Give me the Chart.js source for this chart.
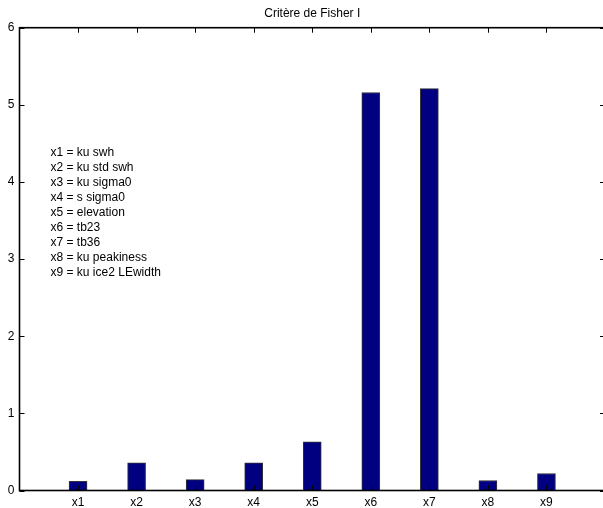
<!DOCTYPE html>
<html lang="fr">
<head>
<meta charset="UTF-8" />
<title>Critère de Fisher I</title>
<script src="https://cdn.jsdelivr.net/npm/chart.js"></script>
<style>
  html, body { margin: 0; padding: 0; overflow: hidden; background: #fff; }
  #wrap { width: 610px; height: 508px; }
</style>
</head>
<body>
<div id="wrap"><canvas id="fisher" width="610" height="508"></canvas></div>
<script>
// Fisher criterion for each input variable
const variables = ['x1', 'x2', 'x3', 'x4', 'x5', 'x6', 'x7', 'x8', 'x9'];
const fisherValues = [0.12, 0.36, 0.14, 0.36, 0.63, 5.16, 5.21, 0.13, 0.22];
const yTicks = [0, 1, 2, 3, 4, 5, 6];
const keyLines = [
  'x1 = ku swh',
  'x2 = ku std swh',
  'x3 = ku sigma0',
  'x4 = s sigma0',
  'x5 = elevation',
  'x6 = tb23',
  'x7 = tb36',
  'x8 = ku peakiness',
  'x9 = ku ice2 LEwidth'
];

const FONT = 'Liberation Sans, Arial, Helvetica, sans-serif';

// box around the axes with inward ticks on all four sides, plus the variable key
const matlabBox = {
  id: 'matlabBox',
  afterDatasetsDraw(chart) {
    const { ctx, chartArea: a, scales: { x, y } } = chart;
    const tl = 5;
    ctx.save();
    ctx.strokeStyle = '#000';
    ctx.lineWidth = 1;
    ctx.beginPath();
    variables.forEach((v, i) => {
      const px = Math.round(x.getPixelForValue(i + 1)) + 0.5;
      ctx.moveTo(px, a.bottom); ctx.lineTo(px, a.bottom - tl);
      ctx.moveTo(px, a.top); ctx.lineTo(px, a.top + tl);
    });
    yTicks.forEach(t => {
      const py = Math.round(y.getPixelForValue(t)) + 0.5;
      ctx.moveTo(a.left, py); ctx.lineTo(a.left + tl, py);
      ctx.moveTo(a.right, py); ctx.lineTo(a.right - tl, py);
    });
    ctx.stroke();

    ctx.lineWidth = 1.6;
    ctx.strokeRect(a.left, a.top, a.right - a.left, a.bottom - a.top);

    ctx.fillStyle = '#000';
    ctx.font = '12px ' + FONT;
    ctx.textBaseline = 'middle';
    ctx.textAlign = 'left';
    keyLines.forEach((line, i) => {
      ctx.fillText(line, a.left + 31, a.top + 125 + i * 15);
    });
    ctx.restore();
  }
};

new Chart(document.getElementById('fisher'), {
  type: 'bar',
  data: {
    datasets: [{
      data: variables.map((v, i) => ({ x: i + 1, y: fisherValues[i] })),
      backgroundColor: '#000080',
      borderColor: '#333333',
      borderWidth: 1,
      barThickness: 18
    }]
  },
  options: {
    responsive: false,
    animation: false,
    layout: { padding: { right: 3.5 } },
    plugins: {
      legend: { display: false },
      tooltip: { enabled: false },
      title: {
        display: true,
        text: 'Critère de Fisher I',
        fullSize: false,
        color: '#000',
        font: { family: FONT, size: 12, weight: 'normal' },
        padding: { top: 6, bottom: 7.3 }
      }
    },
    scales: {
      x: {
        type: 'linear',
        min: 0,
        max: 10,
        offset: false,
        grid: { display: false, drawTicks: false },
        border: { display: false },
        ticks: {
          stepSize: 1,
          autoSkip: false,
          maxRotation: 0,
          color: '#000',
          font: { family: FONT, size: 12 },
          padding: 5,
          callback: v => variables[v - 1] || ''
        },
        afterFit: s => { s.height = 17.5; }
      },
      y: {
        min: 0,
        max: 6,
        grid: { display: false, drawTicks: false },
        border: { display: false },
        ticks: {
          stepSize: 1,
          color: '#000',
          font: { family: FONT, size: 12 },
          padding: 5
        },
        afterFit: s => { s.width = 19.5; }
      }
    }
  },
  plugins: [matlabBox]
});
</script>
</body>
</html>
